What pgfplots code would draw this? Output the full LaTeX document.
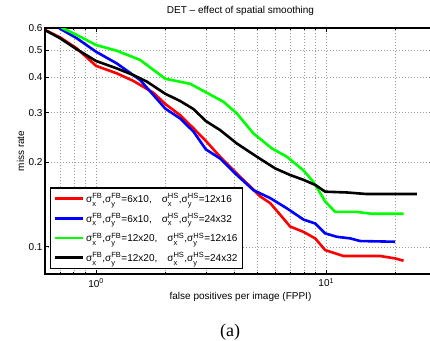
\documentclass[border=0pt]{standalone}
\usepackage{pgfplots}
\pgfplotsset{compat=1.18}
\usepackage{fontspec}
\setmainfont{Liberation Sans}
\newfontfamily\serifcap{Liberation Serif}
\newcommand{\sig}[2]{σ\rlap{\raisebox{-0.4ex}{\fontsize{7.5}{8}\selectfont\textsubscript{\fontsize{7.5}{8}\selectfont #1}}}\textsuperscript{\fontsize{7.5}{8}\selectfont #2}}
\definecolor{mgreen}{rgb}{0,1,0}
\begin{document}
\begin{tikzpicture}[font=\fontsize{10}{12}\selectfont]
\begin{axis}[
  scale only axis, width=391pt, height=246pt,
  xmode=log, ymode=log,
  xmin=0.6, xmax=30, ymin=0.08, ymax=0.6,
  xtick={1,10}, xticklabels={10\textsuperscript{0},10\textsuperscript{1}},
  minor xtick={0.6,0.7,0.8,0.9,2,3,4,5,6,7,8,9,20,30},
  ytick={0.1,0.2,0.3,0.4,0.5,0.6}, yticklabels={0.1,0.2,0.3,0.4,0.5,0.6},
  minor ytick={},
  grid=both,
  major grid style={gray!80, line width=0.5pt, dash pattern=on 0.7pt off 2.3pt},
  minor grid style={gray!80, line width=0.5pt, dash pattern=on 0.7pt off 2.3pt},
  tick align=inside, major tick length=4pt, minor tick length=2.5pt,
  tick style={black, line width=0.6pt},
  axis line style={line width=1.2pt},
  yticklabel style={xshift=1pt},
  xticklabel style={yshift=-1pt},
  title={DET -- effect of spatial smoothing},
  title style={at={(axis description cs:0.5,1.046)}, anchor=center},
  xlabel={false positives per image (FPPI)},
  xlabel style={at={(axis description cs:0.5,-0.0923)}, anchor=center},
  ylabel={miss rate},
  ylabel style={at={(axis description cs:-0.0624,0.5)}, anchor=center},
  legend style={at={(0.0128,0.0203)}, anchor=south west, draw=black, line width=1.2pt, row sep=5.3pt, inner xsep=3pt, inner ysep=3.5pt},
  legend cell align=left,
  legend image code/.code={\draw[#1] (0pt,0pt) -- (28pt,0pt);},
]
\addplot[red, line width=2.6pt] coordinates {
(0.6,0.590) (0.697,0.556) (0.824,0.508) (1.0,0.440) (1.23,0.414) (1.453,0.389) (1.775,0.353) (2.0,0.322) (2.319,0.294) (2.649,0.264) (3.0,0.238) (3.46,0.209) (4.09,0.182) (4.672,0.164) (5.164,0.151) (5.708,0.143) (6.31,0.130) (6.975,0.118) (7.965,0.113) (8.958,0.1071) (9.9,0.0973) (11.89,0.0927) (17.17,0.0927) (19.95,0.0909) (21.68,0.0892)};
\addlegendentry{\sig{x}{FB},\sig{y}{FB}=6x10,\hspace{1em}\sig{x}{HS},\sig{y}{HS}=12x16}
\addplot[blue, line width=2.6pt] coordinates {
(0.692,0.599) (0.824,0.552) (1.0,0.494) (1.23,0.449) (1.554,0.392) (2.0,0.310) (2.319,0.286) (2.649,0.257) (3.0,0.222) (3.46,0.206) (4.09,0.180) (4.829,0.159) (5.708,0.149) (6.748,0.137) (7.965,0.125) (8.958,0.121) (9.9,0.1116) (11.13,0.1085) (12.72,0.1071) (14.05,0.1048) (19.95,0.1042)};
\addlegendentry{\sig{x}{FB},\sig{y}{FB}=6x10,\hspace{1em}\sig{x}{HS},\sig{y}{HS}=24x32}
\addplot[mgreen, line width=2.6pt] coordinates {
(0.709,0.602) (0.824,0.567) (1.0,0.522) (1.23,0.498) (1.554,0.462) (2.0,0.396) (2.563,0.380) (3.029,0.353) (3.577,0.328) (4.09,0.298) (4.829,0.253) (5.8,0.224) (6.748,0.209) (7.965,0.187) (8.808,0.170) (9.9,0.145) (10.94,0.133) (13.6,0.133) (15.8,0.131) (21.68,0.131)};
\addlegendentry{\sig{x}{FB},\sig{y}{FB}=12x20,\hspace{1em}\sig{x}{HS},\sig{y}{HS}=12x16}
\addplot[black, line width=2.6pt] coordinates {
(0.6,0.590) (0.697,0.552) (0.824,0.504) (1.0,0.458) (1.23,0.431) (1.453,0.408) (1.661,0.387) (2.0,0.350) (2.319,0.330) (2.649,0.309) (3.0,0.280) (3.46,0.260) (4.09,0.233) (5.0,0.209) (6.0,0.190) (6.975,0.180) (7.965,0.173) (8.958,0.166) (9.9,0.157) (12.3,0.156) (15.03,0.154) (24.8,0.154)};
\addlegendentry{\sig{x}{FB},\sig{y}{FB}=12x20,\hspace{1em}\sig{x}{HS},\sig{y}{HS}=24x32}
\end{axis}
\node[font=\serifcap\fontsize{18}{20}\selectfont] at (185pt,-58pt) {(a)};
\pgfresetboundingbox
\useasboundingbox (-45pt,-66pt) rectangle (385pt,274pt);
\end{tikzpicture}
\end{document}
